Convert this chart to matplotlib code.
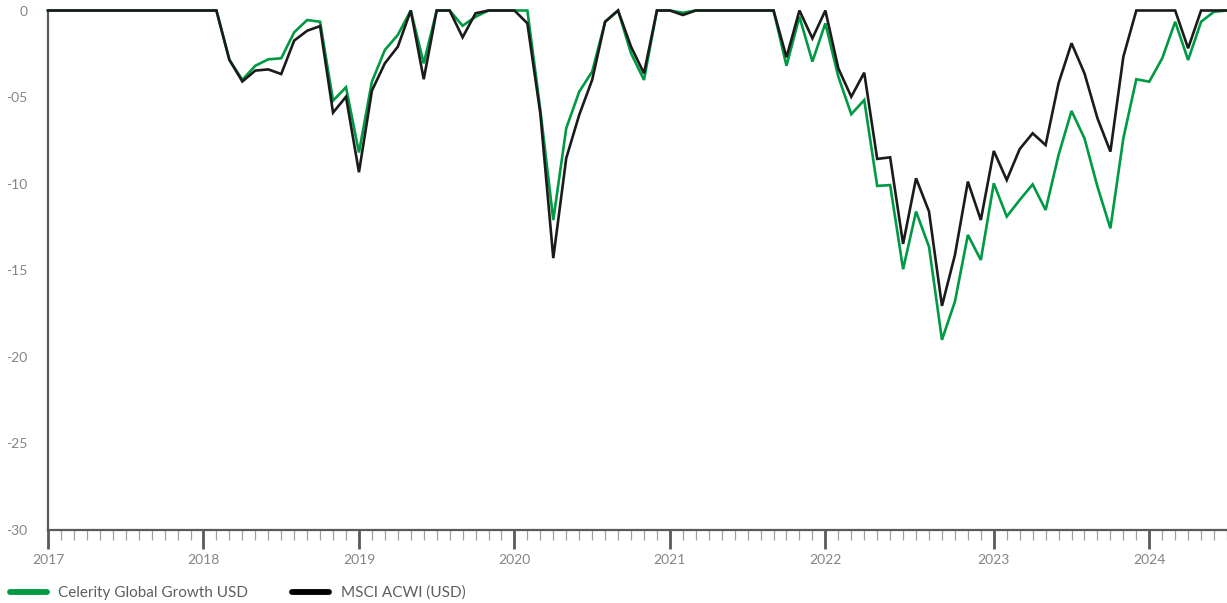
import matplotlib
matplotlib.use("Agg")
import matplotlib.pyplot as plt
from matplotlib.lines import Line2D
import numpy as np

plt.rcParams['font.family'] = ['Lato', 'DejaVu Sans']

# Monthly drawdown (%), category axis (2022 holds 13 points)
celerity = [0, 0, 0, 0, 0, 0, 0, 0, 0, 0, 0, 0,
            0, 0, -2.85, -4.0, -3.19, -2.82, -2.76, -1.26, -0.55, -0.65, -5.21, -4.43,
            -8.2, -4.11, -2.28, -1.41, 0, -3.05, 0, 0, -0.88, -0.36, 0, 0,
            0, 0, -5.74, -12.1, -6.8, -4.69, -3.53, -0.65, 0, -2.47, -4.01, 0,
            0, -0.13, 0, 0, 0, 0, 0, 0, 0, -3.19, -0.36, -2.95,
            -0.74, -3.82, -5.99, -5.17, -10.13, -10.08, -14.94, -11.61, -13.64, -19.02, -16.81, -12.96, -14.41,
            -9.98, -11.9, -10.94, -10.04, -11.52, -8.34, -5.8, -7.38, -10.17, -12.58, -7.38, -3.97,
            -4.11, -2.76, -0.65, -2.86, -0.65, -0.07, 0]
msci = [0, 0, 0, 0, 0, 0, 0, 0, 0, 0, 0, 0,
        0, 0, -2.85, -4.1, -3.47, -3.4, -3.67, -1.74, -1.17, -0.9, -5.9, -4.98,
        -9.34, -4.63, -3.05, -2.09, 0, -3.97, 0, 0, -1.55, -0.16, 0, 0,
        0, -0.74, -5.95, -14.3, -8.53, -6.03, -4.01, -0.65, 0, -2.09, -3.63, 0,
        0, -0.26, 0, 0, 0, 0, 0, 0, 0, -2.7, 0, -1.61,
        0, -3.34, -4.98, -3.59, -8.57, -8.48, -13.48, -9.69, -11.61, -17.06, -14.12, -9.88, -12.1,
        -8.11, -9.79, -8.0, -7.09, -7.77, -4.2, -1.89, -3.63, -6.22, -8.15, -2.67, 0,
        0, 0, 0, -2.18, 0, 0, 0]
year_labels = ['2017', '2018', '2019', '2020', '2021', '2022', '2023', '2024']
year_idx = [0, 12, 24, 36, 48, 60, 73, 85]
ytick_vals = [0, -5, -10, -15, -20, -25, -30]
ytick_labels = ['0', '-05', '-10', '-15', '-20', '-25', '-30']
series_names = ['Celerity Global Growth USD', 'MSCI ACWI (USD)']

GREEN = '#009a44'
BLACK = '#1b1b1b'

fig = plt.figure(figsize=(12.27, 6.03), dpi=100)
ax = fig.add_axes([48/1227, 1 - 530/603, 1 - 48/1227, (530 - 10.5)/603])

x = np.arange(len(celerity))
ax.plot(x, celerity, color=GREEN, lw=1.9, clip_on=False, solid_joinstyle='miter', zorder=3)
ax.plot(x, msci, color=BLACK, lw=1.9, clip_on=False, solid_joinstyle='miter', zorder=4)

ax.set_xlim(0, len(celerity) - 1)
ax.set_ylim(-30, 0)

for s in ['top', 'right']:
    ax.spines[s].set_visible(False)
for s in ['left', 'bottom']:
    ax.spines[s].set_color('#5a5a5a')
    ax.spines[s].set_linewidth(1.6)

ax.set_xticks(year_idx)
ax.set_xticklabels(year_labels)
ax.set_xticks(x, minor=True)
ax.tick_params(axis='x', which='major', direction='out', length=14, width=2.0,
               color='#5a5a5a', labelsize=10, labelcolor='#858585', pad=3)
ax.tick_params(axis='x', which='minor', direction='out', length=7, width=0.9,
               color='#a0a0a0')

ax.set_yticks(ytick_vals)
ax.set_yticklabels(ytick_labels)
ax.tick_params(axis='y', which='major', length=0, labelsize=10,
               labelcolor='#858585', pad=15)

handles = [Line2D([], [], color=GREEN, lw=4.2, solid_capstyle='round'),
           Line2D([], [], color='black', lw=4.2, solid_capstyle='round')]
leg = fig.legend(handles, series_names, loc='center left',
                 bbox_to_anchor=(10/1227, 1 - 593/603), ncol=2, frameon=False,
                 fontsize=11, handlelength=2.4, handletextpad=0.75,
                 columnspacing=2.9, borderpad=0, borderaxespad=0)
for t in leg.get_texts():
    t.set_color('#5f5f5f')

fig.savefig('out.png', dpi=100)
